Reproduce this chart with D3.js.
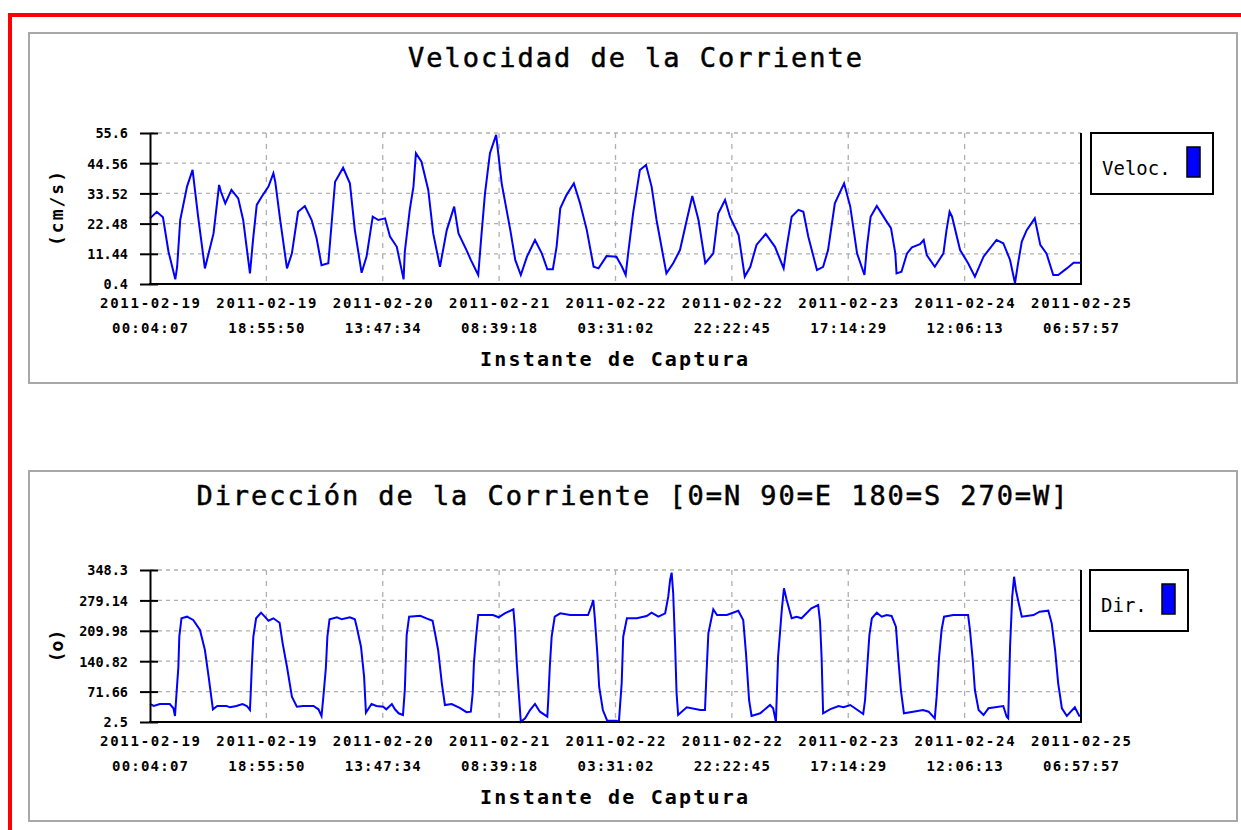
<!DOCTYPE html>
<html><head><meta charset="utf-8">
<script src="https://cdn.jsdelivr.net/npm/d3@7"></script>
<style>
body{margin:0;background:#fff;}
svg{display:block;}
</style></head><body>
<svg id="c" width="1241" height="830"></svg>
<script>
// ---------- DATA ----------
const startTime = "2011-02-19T00:04:07Z";
const endTime   = "2011-02-25T06:57:57Z";
const xTickDates = ["2011-02-19","2011-02-19","2011-02-20","2011-02-21","2011-02-22","2011-02-22","2011-02-23","2011-02-24","2011-02-25"];
const xTickTimes = ["00:04:07","18:55:50","13:47:34","08:39:18","03:31:02","22:22:45","17:14:29","12:06:13","06:57:57"];
const velTicks = [0.4, 11.44, 22.48, 33.52, 44.56, 55.6];
const dirTicks = [2.5, 71.66, 140.82, 209.98, 279.14, 348.3];
// [hours since start, value]
const velReadings = [[0,24.4],[1.1,26.8],[2.1,24.8],[3.0,12.2],[4.1,2.1],[4.4,6.7],[4.9,23.8],[6.0,36.0],[6.9,42.1],[7.8,25.0],[8.9,6.1],[10.3,18.9],[11.2,36.6],[11.5,34.1],[12.2,29.9],[13.2,34.8],[14.3,31.7],[15.1,23.8],[16.2,4.3],[16.7,16.5],[17.3,29.3],[18.1,32.3],[19.2,36.0],[20.0,40.9],[20.3,37.8],[21.1,23.8],[22.2,6.1],[23.0,11.6],[24.0,26.8],[25.1,28.9],[26.2,23.8],[27.0,17.1],[27.8,7.3],[28.9,8.0],[30.0,37.8],[31.3,42.9],[32.4,37.2],[33.2,20.1],[34.3,4.5],[35.1,10.4],[36.1,25.0],[37.0,23.8],[38.1,24.4],[38.9,17.7],[40.0,14.0],[41.1,2.1],[41.3,12.2],[42.1,27.5],[42.7,36.0],[43.1,48.2],[44.0,45.1],[45.1,34.8],[45.9,18.9],[47.0,6.7],[48.1,20.1],[49.3,28.7],[50.0,18.9],[51.3,12.8],[52.0,9.2],[53.2,3.7],[53.7,17.7],[54.3,33.6],[55.1,48.2],[56.1,54.9],[57.0,37.2],[58.4,20.1],[59.2,9.2],[60.1,3.7],[61.1,10.4],[62.4,16.5],[63.5,11.6],[64.4,5.8],[65.3,5.8],[65.9,14.0],[66.5,28.1],[67.5,32.9],[68.7,37.2],[69.7,29.9],[70.8,20.1],[71.9,6.7],[72.7,6.1],[74.0,10.6],[75.6,10.4],[76.5,6.7],[77.1,3.7],[77.5,11.6],[78.3,26.2],[79.4,42.1],[80.4,43.9],[81.3,36.0],[82.1,23.8],[82.9,14.0],[83.7,4.3],[84.8,8.0],[85.9,12.8],[87.0,23.8],[87.9,32.6],[88.9,23.8],[90.0,8.0],[91.3,11.6],[92.1,26.2],[93.2,31.1],[94.0,25.0],[95.4,18.3],[96.4,3.1],[97.3,6.7],[98.3,14.7],[99.8,18.7],[101.3,14.0],[102.7,6.1],[103.2,14.0],[104.0,25.0],[105.1,27.5],[105.9,26.8],[106.7,17.7],[108.1,5.5],[109.1,6.7],[109.9,12.8],[111.0,29.9],[112.5,37.2],[113.5,28.7],[114.6,11.6],[115.8,3.7],[116.2,14.0],[116.8,25.0],[117.8,28.9],[119.4,23.2],[120.1,20.8],[120.8,11.6],[121.0,4.3],[121.8,4.9],[122.7,11.6],[123.5,13.8],[124.8,15.0],[125.4,16.5],[125.9,11.0],[127.2,6.7],[128.6,11.6],[129.1,20.1],[129.6,26.8],[130.0,25.0],[131.3,12.8],[132.6,8.0],[133.7,3.1],[135.1,10.4],[137.2,16.5],[138.3,15.3],[139.4,9.2],[140.2,0.7],[140.7,8.0],[141.3,15.9],[142.1,20.1],[143.4,24.4],[144.3,14.7],[145.3,11.6],[146.4,3.7],[147.2,3.7],[148.6,6.1],[149.7,8.2],[150.9,8.2]];
const dirReadings = [[0,43.5],[0.6,38.9],[1.6,43.5],[3.2,43.5],[3.8,33.7],[4.05,16.2],[4.3,67.8],[4.6,128.3],[4.75,196.6],[5.1,238.4],[6.0,242.1],[7.0,234.6],[8.1,211.8],[8.5,189.1],[8.9,166.3],[9.5,105.6],[10.2,31.4],[10.9,38.9],[12.4,38.9],[13.0,35.9],[14.0,38.9],[15.0,43.5],[15.7,38.9],[16.2,29.8],[16.3,60.1],[16.5,128.3],[16.75,196.6],[17.2,238.4],[18.0,251.2],[18.6,242.1],[19.2,232.9],[20.0,238.4],[21.0,228.4],[21.5,181.5],[22.2,128.3],[23.0,60.1],[23.8,37.3],[24.8,38.9],[26.5,38.9],[27.3,31.4],[27.8,16.2],[28.1,60.1],[28.5,124.7],[28.75,196.6],[29.1,236.1],[30.3,240.7],[31.1,236.1],[32.4,240.7],[33.2,236.1],[33.5,219.3],[34.2,173.8],[34.7,105.6],[35.0,23.7],[35.9,43.5],[36.7,38.9],[37.8,37.3],[38.3,31.4],[39.2,43.5],[39.7,31.4],[40.3,22.3],[41.0,18.4],[41.3,75.3],[41.6,200.4],[42.0,242.1],[43.8,244.3],[44.8,238.4],[45.8,232.9],[46.2,204.3],[46.7,166.3],[47.3,90.5],[47.8,41.2],[48.9,43.5],[50.2,34.8],[51.3,24.8],[52.0,26.0],[52.3,67.8],[52.5,136],[52.85,196.6],[53.2,245.9],[55.6,245.9],[56.5,240.7],[57.5,249.8],[58.9,258.9],[59.15,215.7],[59.45,136],[59.85,52.5],[60.1,3.2],[60.8,10.9],[61.6,29.8],[62.4,43.5],[63.2,26.0],[64.4,14.6],[64.55,52.5],[64.8,128.3],[65.1,196.6],[65.6,242.1],[66.5,249.8],[68.1,245.9],[71.0,245.9],[71.6,268.7],[71.85,280.1],[72.1,238.4],[72.5,158.8],[72.8,82.8],[73.4,29.8],[74.1,5.5],[75.6,5.5],[76.0,3.2],[76.45,90.5],[76.7,196.6],[77.3,238.4],[78.9,238.4],[80.5,243.7],[81.3,251.2],[82.4,242.1],[83.5,249.8],[84.0,287.6],[84.3,325.5],[84.55,342.2],[84.8,295.3],[85.1,181.5],[85.35,67.8],[85.6,18.4],[87.0,35.9],[89.2,29.8],[89.95,29.8],[90.2,113.3],[90.5,204.3],[91.3,258.9],[91.9,245.9],[93.5,245.9],[95.35,255.7],[96.15,234.6],[96.6,158.8],[97.1,52.5],[97.5,16.2],[98.9,22.3],[100.5,41.2],[101.0,33.7],[101.45,3.2],[101.8,151],[102.4,257.3],[102.75,306.7],[103.2,280.1],[104.0,238.4],[104.8,242.1],[105.6,238.4],[107.2,261.2],[108.3,268.7],[108.6,230.7],[108.85,151],[109.1,22.3],[110.2,31.4],[111.6,38.9],[112.4,35.9],[113.5,41.2],[114.5,31.4],[115.6,20.7],[115.9,52.5],[116.25,128.3],[116.6,200.4],[117.0,238.4],[117.8,251.2],[118.6,242.1],[119.4,245.9],[120.2,243.7],[120.9,219.3],[121.3,143.6],[121.7,75.3],[122.2,22.3],[123.7,26.0],[125.3,29.8],[126.2,26.0],[127.2,10.9],[127.5,60.1],[127.9,151],[128.3,211.8],[128.7,242.1],[130.2,245.9],[132.6,245.9],[132.9,211.8],[133.35,143.6],[133.7,75.3],[134.3,29.8],[135.1,18.4],[135.9,33.7],[138.3,38.9],[138.85,14.6],[139.1,10.9],[139.4,173.8],[139.75,287.6],[140.05,333],[140.35,302.8],[140.75,276.2],[141.3,242.1],[143.2,245.9],[144.2,253.4],[145.6,255.7],[146.15,227],[146.7,166.3],[147.2,90.5],[147.8,33.7],[148.6,16.2],[149.9,35.9],[150.6,16.8],[150.9,16.8]];

// ---------- DRAW ----------
const svg = d3.select("#c");
const MONO = "'DejaVu Sans Mono', 'Liberation Mono', monospace";
const t0 = new Date(startTime), t1 = new Date(endTime);
const toDate = h => new Date(t0.getTime() + h * 3600e3);
const tickDates = xTickDates.map((d, i) => new Date(d + "T" + xTickTimes[i] + "Z"));

// red page frame
svg.append("rect").attr("x", 10).attr("y", 15).attr("width", 1240).attr("height", 830)
  .attr("fill", "none").attr("stroke", "#ff0000").attr("stroke-width", 4);

const x = d3.scaleTime().domain([t0, t1]).range([150, 1081]);

function panel(cfg) {
  const g = svg.append("g");
  g.append("rect").attr("x", 29).attr("y", cfg.boxTop).attr("width", 1208).attr("height", cfg.boxH)
    .attr("fill", "#fff").attr("stroke", "#a8a8a8").attr("stroke-width", 2);

  const y = d3.scaleLinear().domain([cfg.ticks[0], cfg.ticks[cfg.ticks.length - 1]]).range([cfg.bottom, cfg.top]);

  g.append("text").attr("x", cfg.titleX).attr("y", cfg.titleY).attr("text-anchor", "middle")
    .attr("font-family", MONO).attr("font-size", 27).attr("textLength", cfg.titleLen)
    .attr("lengthAdjust", "spacing").attr("fill", "#000")
    .attr("stroke", "#000").attr("stroke-width", 0.5).text(cfg.title);

  g.append("g").selectAll("line").data(cfg.ticks.slice(1)).join("line")
    .attr("x1", 150).attr("x2", 1081).attr("y1", d => y(d)).attr("y2", d => y(d))
    .attr("stroke", "#b0b0b0").attr("stroke-width", 1.3).attr("stroke-dasharray", "4,4");
  g.append("g").selectAll("line").data(tickDates.slice(1, -1)).join("line")
    .attr("x1", d => x(d)).attr("x2", d => x(d)).attr("y1", cfg.top).attr("y2", cfg.bottom)
    .attr("stroke", "#b0b0b0").attr("stroke-width", 1.3).attr("stroke-dasharray", "5,6");

  const line = d3.line().x(d => x(toDate(d[0]))).y(d => y(d[1]));
  g.append("path").datum(cfg.data).attr("d", line).attr("fill", "none")
    .attr("stroke", "#0000ff").attr("stroke-width", 2).attr("stroke-linejoin", "miter");

  const ya = g.append("g").attr("transform", "translate(150,0)")
    .call(d3.axisLeft(y).tickValues(cfg.ticks).tickSize(10).tickSizeOuter(0).tickPadding(12)
      .tickFormat(d => String(d)));
  ya.select(".domain").attr("stroke", "#000").attr("stroke-width", 2);
  ya.selectAll(".tick line").attr("x1", 8).attr("x2", -10).attr("stroke", "#000").attr("stroke-width", 2);
  ya.selectAll(".tick text").attr("font-family", MONO).attr("font-weight", "bold")
    .attr("font-size", 13.5).attr("fill", "#000").attr("dy", "0.36em");

  g.append("line").attr("x1", 149).attr("x2", 1082).attr("y1", cfg.bottom).attr("y2", cfg.bottom)
    .attr("stroke", "#000").attr("stroke-width", 2);
  g.append("line").attr("x1", 1081).attr("x2", 1081).attr("y1", cfg.top).attr("y2", cfg.bottom + 1)
    .attr("stroke", "#000").attr("stroke-width", 2);

  const xl = g.append("g").selectAll("g").data(tickDates).join("g")
    .attr("transform", d => `translate(${x(d)},0)`);
  xl.append("text").attr("y", cfg.bottom + 24).attr("text-anchor", "middle")
    .attr("font-family", MONO).attr("font-weight", "bold").attr("font-size", 14)
    .attr("textLength", 100).attr("lengthAdjust", "spacing")
    .text((d, i) => xTickDates[i]);
  xl.append("text").attr("y", cfg.bottom + 49).attr("text-anchor", "middle")
    .attr("font-family", MONO).attr("font-weight", "bold").attr("font-size", 14)
    .attr("textLength", 76).attr("lengthAdjust", "spacing")
    .text((d, i) => xTickTimes[i]);

  g.append("text").attr("x", 614).attr("y", cfg.bottom + 82).attr("text-anchor", "middle")
    .attr("font-family", MONO).attr("font-weight", "bold").attr("font-size", 20)
    .attr("textLength", 268).attr("lengthAdjust", "spacing").text("Instante de Captura");

  const ym = (cfg.top + cfg.bottom) / 2;
  const yt = g.append("text").attr("transform", `translate(63,${ym}) rotate(-90)`)
    .attr("text-anchor", "middle").attr("font-family", MONO).attr("font-weight", "bold")
    .attr("font-size", 18).text(cfg.yTitle);
  if (cfg.yTitleLen) yt.attr("textLength", cfg.yTitleLen).attr("lengthAdjust", "spacing");

  const L = cfg.legend;
  g.append("rect").attr("x", L.x).attr("y", cfg.top).attr("width", L.w).attr("height", 61)
    .attr("fill", "#fff").attr("stroke", "#000").attr("stroke-width", 2);
  g.append("text").attr("x", L.x + 11).attr("y", cfg.top + 42).attr("font-family", MONO)
    .attr("font-size", 19).attr("fill", "#000").text(cfg.legendText);
  g.append("rect").attr("x", L.x + L.w - 26).attr("y", cfg.top + 14).attr("width", 13).attr("height", 30)
    .attr("fill", "#0000ff").attr("stroke", "#000").attr("stroke-width", 1.5);
}

panel({ boxTop: 33, boxH: 350, top: 133, bottom: 284, ticks: velTicks, data: velReadings,
  title: "Velocidad de la Corriente", titleX: 635, titleY: 67, titleLen: 454,
  yTitle: "(cm/s)", yTitleLen: 75, legend: { x: 1091, w: 122 }, legendText: "Veloc." });

panel({ boxTop: 471, boxH: 350, top: 570, bottom: 722, ticks: dirTicks, data: dirReadings,
  title: "Dirección de la Corriente [0=N 90=E 180=S 270=W]", titleX: 632, titleY: 505, titleLen: 871,
  yTitle: "(o)", legend: { x: 1090, w: 98 }, legendText: "Dir." });
</script>
</body></html>
